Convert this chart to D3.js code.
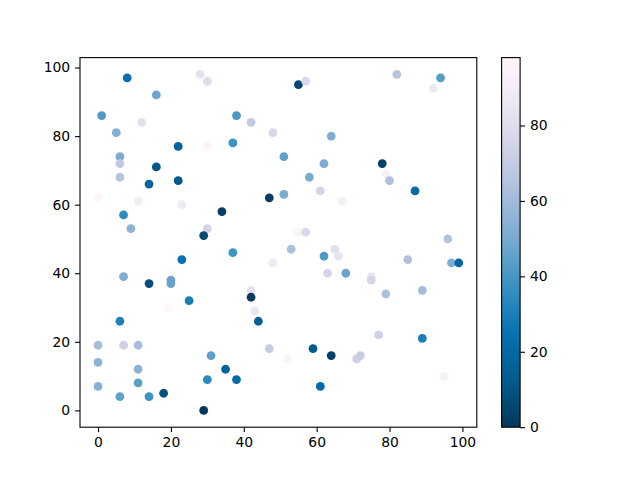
<!DOCTYPE html>
<html>
<head>
<meta charset="utf-8">
<script src="https://cdn.jsdelivr.net/npm/d3@7"></script>
<style>
  body { margin: 0; background: #fff; }
  svg { display: block; }
</style>
</head>
<body>
<div id="chart"></div>
<script>
// Scatter points: x, y and colour value
const xs = [8, 28, 30, 16, 1, 38, 12, 42, 48, 5, 22, 30, 37, 6, 6, 6, 16, 14, 22, 47,
            0, 11, 23, 34, 7, 9, 30, 29, 55, 57, 82, 94, 92, 64, 51, 62, 78, 79, 80, 58,
            87, 51, 61, 67, 55, 57, 96, 53, 65, 37, 23, 48, 7, 14, 20, 20, 20, 25, 19, 42,
            42, 43, 44, 6, 0, 7, 11, 47, 31, 0, 11, 35, 30, 38, 0, 11, 6, 14, 18, 29,
            62, 66, 63, 68, 75, 75, 85, 97, 99, 79, 89, 77, 89, 59, 64, 52, 71, 72, 95, 61];
const ys = [97, 98, 96, 92, 86, 86, 84, 84, 81, 81, 77, 77, 78, 74, 72, 68, 71, 66, 67, 62,
            62, 61, 60, 58, 57, 53, 53, 51, 95, 96, 98, 97, 94, 80, 74, 72, 72, 69, 67, 68,
            64, 63, 64, 61, 52, 52, 50, 47, 47, 46, 44, 43, 39, 37, 40, 38, 37, 32, 30, 35,
            33, 29, 26, 26, 19, 19, 19, 18, 16, 14, 12, 12, 9, 9, 7, 8, 4, 4, 5, 0,
            45, 45, 40, 40, 39, 38, 44, 43, 43, 34, 35, 22, 21, 18, 16, 15, 15, 16, 10, 7];
const cs = [24, 83, 80, 47, 42, 41, 82, 69, 77, 53, 18, 96, 38, 51, 69, 66, 11, 17, 11, 2,
            96, 90, 87, 3, 35, 55, 75, 6, 6, 78, 66, 43, 86, 52, 45, 51, 3, 93, 64, 50,
            21, 50, 76, 91, 95, 78, 65, 63, 82, 39, 25, 88, 51, 8, 98, 47, 46, 30, 97, 83,
            1, 85, 16, 31, 61, 73, 62, 70, 45, 55, 55, 17, 34, 21, 54, 44, 45, 38, 9, 0,
            41, 84, 75, 47, 84, 76, 64, 52, 20, 63, 61, 73, 30, 12, 3, 95, 73, 71, 93, 21];

const xTicks = [0, 20, 40, 60, 80, 100];
const yTicks = [0, 20, 40, 60, 80, 100];
const cTicks = [0, 20, 40, 60, 80];

// PuBu reversed, linear segments like matplotlib
const puBu = ["#fff7fb", "#ece7f2", "#d0d1e6", "#a6bddb", "#74a9cf", "#3690c0", "#0570b0", "#045a8d", "#023858"];

const width = 640, height = 480;
const ax = { left: 80, right: 476.8, top: 57.6, bottom: 427.2 };
const cb = { left: 501.6, right: 520.1, top: 57.6, bottom: 427.2 };
const font = "DejaVu Sans, sans-serif";
const fontSize = 13.9;

const data = xs.map((x, i) => ({ x, y: ys[i], c: cs[i] }));

const xPad = (d3.max(xs) - d3.min(xs)) * 0.05;
const yPad = (d3.max(ys) - d3.min(ys)) * 0.05;
const x = d3.scaleLinear()
    .domain([d3.min(xs) - xPad, d3.max(xs) + xPad])
    .range([ax.left, ax.right]);
const y = d3.scaleLinear()
    .domain([d3.min(ys) - yPad, d3.max(ys) + yPad])
    .range([ax.bottom, ax.top]);

const cMin = d3.min(cs), cMax = d3.max(cs);
const color = d3.scaleLinear()
    .domain(d3.range(9).map(i => cMax - (cMax - cMin) * i / 8))
    .range(puBu)
    .interpolate(d3.interpolateRgb);
const cScale = d3.scaleLinear()
    .domain([cMin, cMax])
    .range([cb.bottom, cb.top]);

const svg = d3.select("#chart").append("svg")
    .attr("width", width)
    .attr("height", height)
    .style("font-family", font);

svg.append("rect").attr("width", width).attr("height", height).attr("fill", "#fff");

// points
svg.append("g")
  .selectAll("circle")
  .data(data)
  .join("circle")
    .attr("cx", d => x(d.x))
    .attr("cy", d => y(d.y))
    .attr("r", 4.4)
    .attr("fill", d => color(d.c));

// axes
function styleAxis(g) {
  g.select(".domain").remove();
  g.selectAll(".tick line").attr("stroke", "#000").attr("stroke-width", 1.1);
  g.selectAll(".tick text").attr("fill", "#000").style("font-size", fontSize + "px").style("font-family", font);
}

svg.append("g")
    .attr("transform", `translate(0,${ax.bottom})`)
    .call(d3.axisBottom(x).tickValues(xTicks).tickSize(4.9).tickPadding(4.9).tickFormat(d3.format("d")))
    .call(styleAxis);

svg.append("g")
    .attr("transform", `translate(${ax.left},0)`)
    .call(d3.axisLeft(y).tickValues(yTicks).tickSize(4.9).tickPadding(4.9).tickFormat(d3.format("d")))
    .call(styleAxis);

svg.append("rect")
    .attr("x", ax.left).attr("y", ax.top)
    .attr("width", ax.right - ax.left).attr("height", ax.bottom - ax.top)
    .attr("fill", "none").attr("stroke", "#000").attr("stroke-width", 1.1);

// colorbar
const grad = svg.append("defs").append("linearGradient")
    .attr("id", "cbar")
    .attr("x1", 0).attr("y1", 1).attr("x2", 0).attr("y2", 0);
grad.selectAll("stop")
  .data(d3.range(0, 1.0001, 0.02))
  .join("stop")
    .attr("offset", t => t)
    .attr("stop-color", t => color(cMin + (cMax - cMin) * t));

svg.append("rect")
    .attr("x", cb.left).attr("y", cb.top)
    .attr("width", cb.right - cb.left).attr("height", cb.bottom - cb.top)
    .attr("fill", "url(#cbar)");

svg.append("g")
    .attr("transform", `translate(${cb.right},0)`)
    .call(d3.axisRight(cScale).tickValues(cTicks).tickSize(4.9).tickPadding(4.9).tickFormat(d3.format("d")))
    .call(styleAxis);

svg.append("rect")
    .attr("x", cb.left).attr("y", cb.top)
    .attr("width", cb.right - cb.left).attr("height", cb.bottom - cb.top)
    .attr("fill", "none").attr("stroke", "#000").attr("stroke-width", 1.1);
</script>
</body>
</html>
